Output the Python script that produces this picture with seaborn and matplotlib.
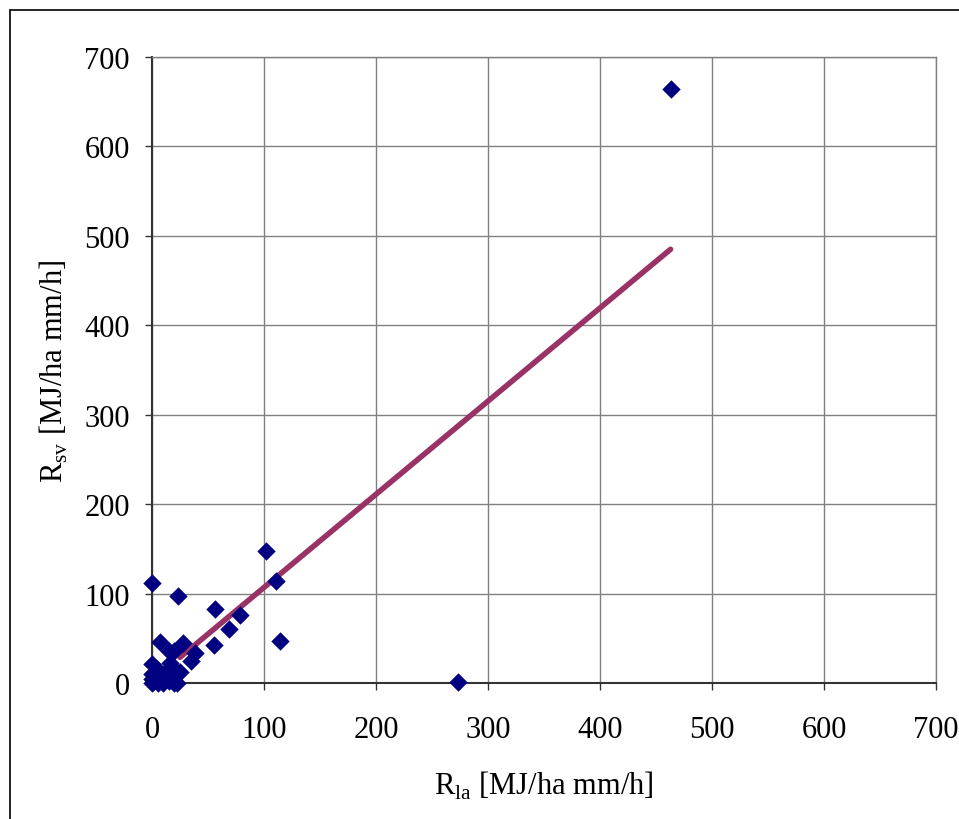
import matplotlib
matplotlib.use('Agg')
import matplotlib.pyplot as plt
import seaborn as sns
import pandas as pd
from matplotlib.patches import Rectangle

r_la = [0, 0, 0, 0, 2, 3, 5, 5, 8, 8, 10, 12, 14, 15, 18, 20, 22, 20, 16, 25,
        7, 28, 15, 20, 38, 35, 0, 23, 102, 111, 56, 79, 69, 55, 114, 273, 463]
r_sv = [0, 5, 10, 21, 2, 8, 0, 14, 3, 10, 0, 6, 15, 2, 8, 0, 0, 16, 22, 12,
        46, 45, 36, 36, 33, 25, 112, 97, 148, 114, 83, 76, 60, 42, 47, 1, 664]

# trend line endpoints
fit_x = [25, 463]
fit_y = [28.7, 485]

ticks = [0, 100, 200, 300, 400, 500, 600, 700]

df = pd.DataFrame({'r_la': r_la, 'r_sv': r_sv})

sns.set_style('white')
plt.rcParams['font.family'] = ['Liberation Serif', 'DejaVu Serif']
plt.rcParams['mathtext.fontset'] = 'custom'
plt.rcParams['mathtext.rm'] = 'Liberation Serif'
plt.rcParams['text.color'] = 'black'
plt.rcParams['axes.labelcolor'] = 'black'
plt.rcParams['xtick.color'] = 'black'
plt.rcParams['ytick.color'] = 'black'

fig = plt.figure(figsize=(9.59, 8.20), dpi=100)
ax = fig.add_axes([152 / 959, 1 - 684 / 820, 784 / 959, 626 / 820])

# outer frame
fig.patches.append(Rectangle((10 / 959, -0.01), 1.0, 1 - 11 / 820 + 0.01, transform=fig.transFigure,
                             fill=False, edgecolor='black', linewidth=1.2))

ax.grid(True, color='#808080', linewidth=1.0)
ax.set_axisbelow(True)

sns.lineplot(x=fit_x, y=fit_y, ax=ax, color='#993366', linewidth=4.0, zorder=2)
sns.scatterplot(data=df, x='r_la', y='r_sv', ax=ax, marker='D', s=88,
                color='#000080', linewidth=0, zorder=3, clip_on=False)

ax.set_xlim(0, 700)
ax.set_ylim(0, 700)
ax.set_xticks(ticks)
ax.set_yticks(ticks)
ax.tick_params(axis='both', direction='out', length=5, width=1, color='#333333',
               labelsize=22, labelcolor='black', left=True, bottom=True)
ax.tick_params(axis='x', pad=18)
ax.tick_params(axis='y', pad=11)

for side in ['left', 'bottom']:
    ax.spines[side].set_color('#333333')
    ax.spines[side].set_linewidth(1.5)
for side in ['top', 'right']:
    ax.spines[side].set_color('#808080')
    ax.spines[side].set_linewidth(1.0)

ax.set_xlabel(r'R$_{\mathrm{la}}$ [MJ/ha mm/h]', fontsize=22, labelpad=18)
ax.set_ylabel(r'R$_{\mathrm{sv}}$ [MJ/ha mm/h]', fontsize=22, labelpad=10)

fig.savefig('out.png', dpi=100, facecolor='white')
